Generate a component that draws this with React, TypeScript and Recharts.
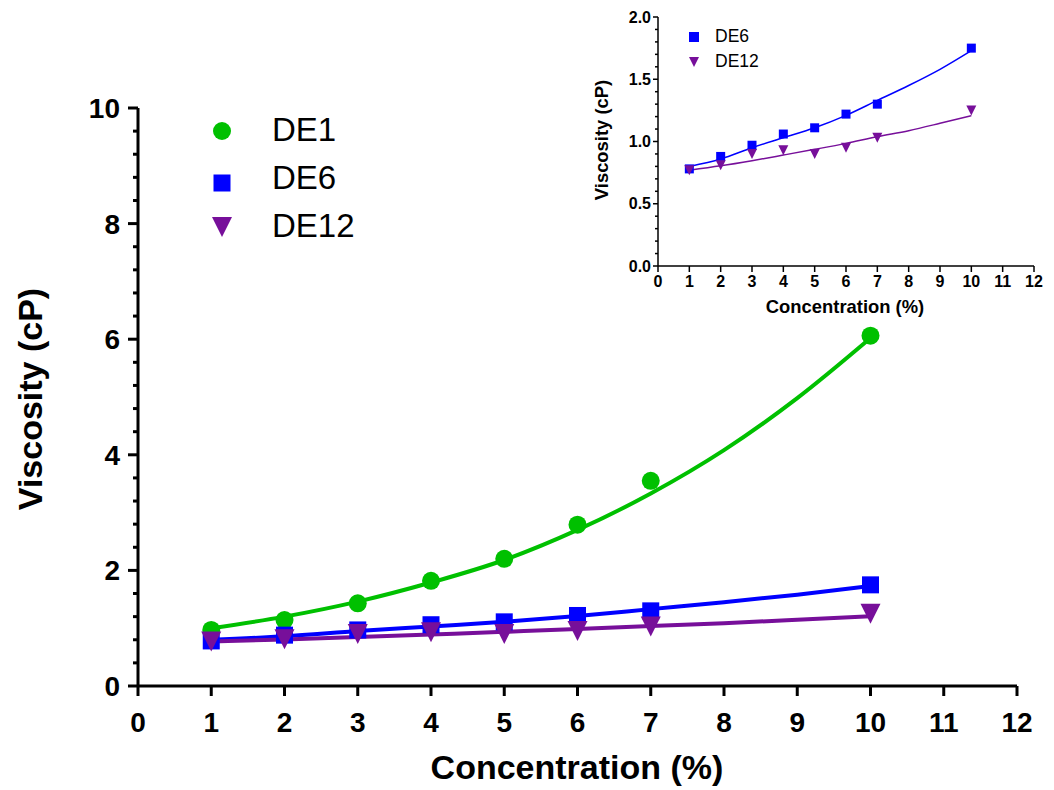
import React from 'react';
import { ComposedChart, Line, XAxis, YAxis } from 'recharts';

const FONT = '"Liberation Sans", Arial, sans-serif';

// Concentration (%) categories
const concentrations = [1, 2, 3, 4, 5, 6, 7, 8, 9, 10];

// Measured viscosities (cP); no measurement at 8 and 9 %
const de1Measured = [0.97, 1.14, 1.43, 1.82, 2.2, 2.79, 3.55, null, null, 6.06];
const de6Measured = [0.78, 0.88, 0.97, 1.06, 1.11, 1.22, 1.3, null, null, 1.75];
const de12Measured = [0.77, 0.81, 0.9, 0.93, 0.9, 0.95, 1.03, null, null, 1.25];

// Fitted curves
const de1Fit = [1.0, 1.2, 1.46, 1.79, 2.18, 2.7, 3.33, 4.08, 4.98, 6.02];
const de6Fit = [0.8, 0.86, 0.95, 1.03, 1.11, 1.21, 1.33, 1.45, 1.58, 1.73];
const de12Fit = [0.77, 0.805, 0.846, 0.891, 0.937, 0.985, 1.039, 1.087, 1.146, 1.208];

// Tick values
const xTicks = [0, 1, 2, 3, 4, 5, 6, 7, 8, 9, 10, 11, 12];
const mainYTicks = [0, 0.4, 0.8, 1.2, 1.6, 2, 2.4, 2.8, 3.2, 3.6, 4, 4.4, 4.8, 5.2, 5.6, 6, 6.4, 6.8, 7.2, 7.6, 8, 8.4, 8.8, 9.2, 9.6, 10];
const insetYTicks = [0, 0.1, 0.2, 0.3, 0.4, 0.5, 0.6, 0.7, 0.8, 0.9, 1, 1.1, 1.2, 1.3, 1.4, 1.5, 1.6, 1.7, 1.8, 1.9, 2];

const mainLegend = ['DE1', 'DE6', 'DE12'];
const insetLegend = ['DE6', 'DE12'];

const GREEN = '#00C000';
const BLUE = '#0000FF';
const PURPLE = '#770F9A';

const rows = concentrations.map((c, i) => ({
  x: c,
  de1: de1Measured[i],
  de6: de6Measured[i],
  de12: de12Measured[i],
  de1Fit: de1Fit[i],
  de6Fit: de6Fit[i],
  de12Fit: de12Fit[i],
}));

const isMajor = (v: number, step: number) => Math.abs(v / step - Math.round(v / step)) < 1e-6;

function markerShape(kind: string, cx: number, cy: number, size: number, color: string, key?: any) {
  if (kind === 'circle') return <circle key={key} cx={cx} cy={cy} r={size / 2} fill={color} />;
  if (kind === 'square') return <rect key={key} x={cx - size / 2} y={cy - size / 2} width={size} height={size} fill={color} />;
  const h = size;
  return (
    <path
      key={key}
      d={`M${cx - size / 2},${cy - h / 2} L${cx + size / 2},${cy - h / 2} L${cx},${cy + h / 2} Z`}
      fill={color}
    />
  );
}

const makeDot = (kind: string, size: number, color: string) => (props: any) => {
  const { cx, cy, value, index } = props;
  if (value == null || cy == null || isNaN(cy)) return <g key={`e-${index}`} />;
  return markerShape(kind, cx, cy, size, color, `d-${index}`);
};

// axisX is the pixel position of the y-axis line (the axis width, since the left margin is 0)
const makeYTick = (axisX: number, step: number, majorLen: number, minorLen: number, gap: number, fontSize: number, sw: number, fmt: (v: number) => string) =>
  (props: any) => {
    const { y, payload } = props;
    const v = payload.value;
    const major = isMajor(v, step);
    return (
      <g>
        <line x1={axisX} x2={axisX - (major ? majorLen : minorLen)} y1={y} y2={y} stroke="#000" strokeWidth={sw} />
        {major && (
          <text x={axisX - majorLen - gap} y={y} dy="0.355em" textAnchor="end" fontSize={fontSize} fontWeight="bold" fontFamily={FONT} fill="#000">
            {fmt(v)}
          </text>
        )}
      </g>
    );
  };

const MAIN_Y_W = 138;
const INSET_Y_W = 658;
const mainYTick = makeYTick(MAIN_Y_W, 2, 10, 5, 8, 28, 3, (v) => String(Math.round(v)));
const insetYTick = makeYTick(INSET_Y_W, 0.5, 5, 3, 2, 16, 1.5, (v) => v.toFixed(1));

const abs = (left: number, top: number): React.CSSProperties => ({
  position: 'absolute',
  left,
  top,
  fontFamily: FONT,
  color: '#000',
  whiteSpace: 'nowrap',
  lineHeight: 1,
});

export default function App() {
  const mainKinds = ['circle', 'square', 'triangle'];
  const mainColors = [GREEN, BLUE, PURPLE];
  const mainSizes = [18, 17, 20];
  const mainMarkerDy = [0, 4, 0];
  return (
    <div style={{ position: 'absolute', left: 0, top: 0, width: 1054, height: 790, background: '#fff', overflow: 'hidden' }}>
      {/* Main chart */}
      <div style={{ position: 'absolute', left: 0, top: 0 }}>
        <ComposedChart width={1054} height={790} data={rows} margin={{ top: 108, right: 37, bottom: 0, left: 0 }}>
          <XAxis
            dataKey="x"
            type="number"
            domain={[0, 12]}
            ticks={xTicks}
            interval={0}
            height={104}
            tickSize={10}
            tickMargin={16}
            axisLine={{ stroke: '#000', strokeWidth: 3 }}
            tickLine={{ stroke: '#000', strokeWidth: 3 }}
            tick={{ fontSize: 28, fontWeight: 'bold', fill: '#000', fontFamily: FONT }}
          />
          <YAxis
            type="number"
            domain={[0, 10]}
            ticks={mainYTicks}
            interval={0}
            width={MAIN_Y_W}
            tickSize={10}
            tickMargin={8}
            axisLine={{ stroke: '#000', strokeWidth: 3 }}
            tickLine={{ stroke: 'none' }}
            tick={mainYTick}
          />
          <Line dataKey="de1" stroke="none" dot={makeDot('circle', 18, GREEN)} activeDot={false} isAnimationActive={false} />
          <Line dataKey="de6" stroke="none" dot={makeDot('square', 17, BLUE)} activeDot={false} isAnimationActive={false} />
          <Line dataKey="de12" stroke="none" dot={makeDot('triangle', 20, PURPLE)} activeDot={false} isAnimationActive={false} />
          <Line dataKey="de1Fit" type="monotone" stroke={GREEN} strokeWidth={4} dot={false} activeDot={false} isAnimationActive={false} />
          <Line dataKey="de6Fit" type="monotone" stroke={BLUE} strokeWidth={4} dot={false} activeDot={false} isAnimationActive={false} />
          <Line dataKey="de12Fit" type="monotone" stroke={PURPLE} strokeWidth={4} dot={false} activeDot={false} isAnimationActive={false} />
        </ComposedChart>
      </div>

      {/* Inset chart */}
      <div style={{ position: 'absolute', left: 0, top: 0 }}>
        <ComposedChart width={1054} height={330} data={rows} margin={{ top: 17, right: 20, bottom: 0, left: 0 }}>
          <XAxis
            dataKey="x"
            type="number"
            domain={[0, 12]}
            ticks={xTicks}
            interval={0}
            height={64}
            tickSize={6}
            tickMargin={4}
            axisLine={{ stroke: '#000', strokeWidth: 1.5 }}
            tickLine={{ stroke: '#000', strokeWidth: 1.5 }}
            tick={{ fontSize: 16, fontWeight: 'bold', fill: '#000', fontFamily: FONT }}
          />
          <YAxis
            type="number"
            domain={[0, 2]}
            ticks={insetYTicks}
            interval={0}
            width={INSET_Y_W}
            tickSize={5}
            tickMargin={2}
            axisLine={{ stroke: '#000', strokeWidth: 1.5 }}
            tickLine={{ stroke: 'none' }}
            tick={insetYTick}
          />
          <Line dataKey="de6" stroke="none" dot={makeDot('square', 9, BLUE)} activeDot={false} isAnimationActive={false} />
          <Line dataKey="de12" stroke="none" dot={makeDot('triangle', 10, PURPLE)} activeDot={false} isAnimationActive={false} />
          <Line dataKey="de6Fit" type="monotone" stroke={BLUE} strokeWidth={1.5} dot={false} activeDot={false} isAnimationActive={false} />
          <Line dataKey="de12Fit" type="monotone" stroke={PURPLE} strokeWidth={1.5} dot={false} activeDot={false} isAnimationActive={false} />
        </ComposedChart>
      </div>

      {/* Main legend */}
      {mainLegend.map((label, i) => (
        <div key={label} style={{ ...abs(205, 107 + i * 48), display: 'flex', alignItems: 'center', height: 48 }}>
          <svg width={34} height={32} style={{ display: 'block' }}>
            {markerShape(mainKinds[i], 17, 16 + mainMarkerDy[i], mainSizes[i], mainColors[i])}
          </svg>
          <span style={{ marginLeft: 33, fontSize: 33, position: 'relative', top: -2 }}>{label}</span>
        </div>
      ))}

      {/* Inset legend */}
      {insetLegend.map((label, i) => (
        <div key={label} style={{ ...abs(684, 24 + i * 25), display: 'flex', alignItems: 'center', height: 25 }}>
          <svg width={20} height={14} style={{ display: 'block' }}>
            {markerShape(i === 0 ? 'square' : 'triangle', 10, 7, 10, i === 0 ? BLUE : PURPLE)}
          </svg>
          <span style={{ marginLeft: 11, fontSize: 17.5 }}>{label}</span>
        </div>
      ))}

      {/* Axis titles */}
      <div style={{ ...abs(577, 767), transform: 'translate(-50%, -50%)', fontSize: 34, fontWeight: 'bold' }}>Concentration (%)</div>
      <div style={{ ...abs(30, 399), transform: 'translate(-50%, -50%) rotate(-90deg)', fontSize: 34, fontWeight: 'bold' }}>Viscosity (cP)</div>
      <div style={{ ...abs(845, 307), transform: 'translate(-50%, -50%)', fontSize: 18.4, fontWeight: 'bold' }}>Concentration (%)</div>
      <div style={{ ...abs(602, 140), transform: 'translate(-50%, -50%) rotate(-90deg)', fontSize: 18.4, fontWeight: 'bold' }}>Viscosity (cP)</div>
    </div>
  );
}
